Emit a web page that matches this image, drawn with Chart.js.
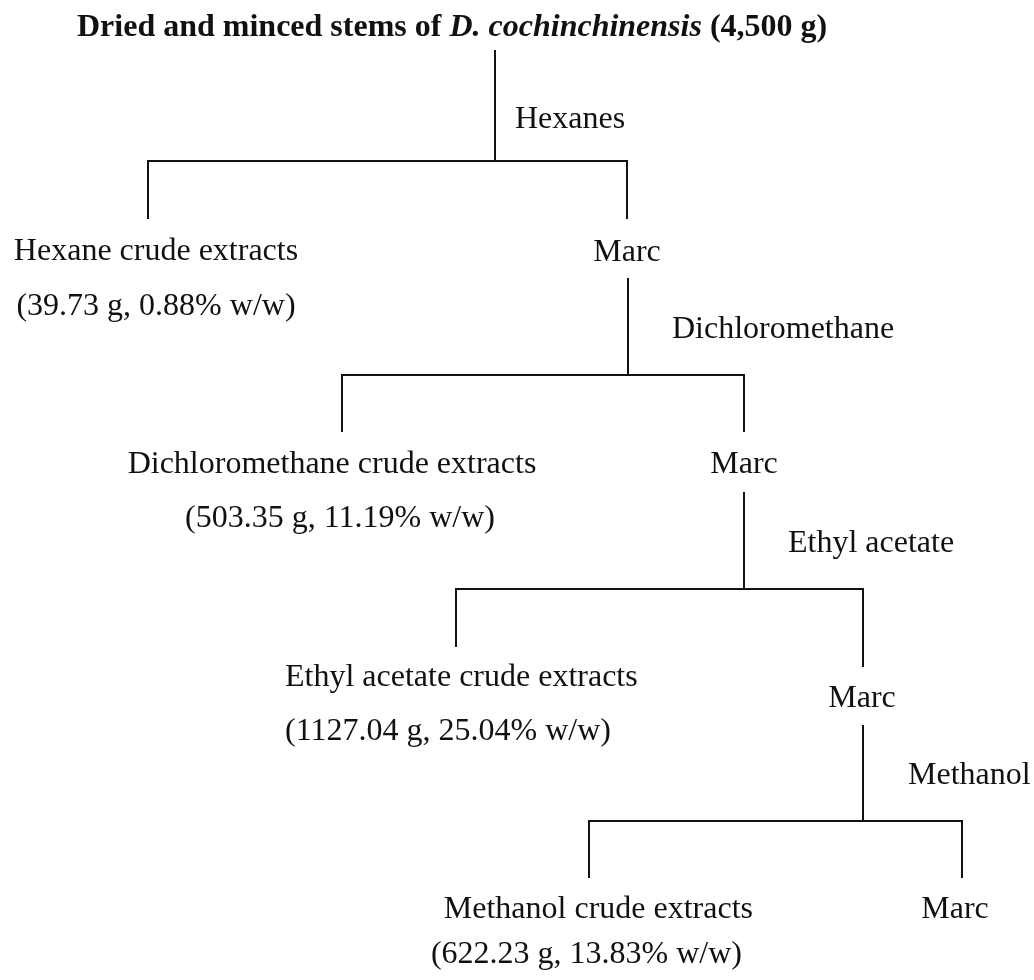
<!DOCTYPE html>
<html>
<head>
<meta charset="utf-8">
<script src="https://cdn.jsdelivr.net/npm/chart.js@4.4.1/dist/chart.umd.min.js"></script>
<style>
  html, body { margin: 0; padding: 0; background: #fff; }
  #wrap { width: 1034px; height: 980px; position: relative; }
</style>
</head>
<body>
<div id="wrap"><canvas id="flow"></canvas></div>
<script>
// extraction data
const plantPart = "Dried and minced stems of ";
const species = "D. cochinchinensis";
const startMass = 4500;
const solvents = ["Hexanes", "Dichloromethane", "Ethyl acetate", "Methanol"];
const extractNames = ["Hexane crude extracts", "Dichloromethane crude extracts", "Ethyl acetate crude extracts", "Methanol crude extracts"];
const extractMass = [39.73, 503.35, 1127.04, 622.23];
const extractPct = [0.88, 11.19, 25.04, 13.83];
const residueName = "Marc";

// layout of each extraction step, in axis units (0..1034 across, 0..980 down)
const trunkX    = [495, 628, 744, 863];
const trunkTop  = [50, 278, 492, 725];
const branchY   = [161, 375, 589, 821];
const leftX     = [148, 342, 456, 589];
const rightX    = [627, 744, 863, 962];
const leftEnd   = [219, 432, 647, 878];
const rightEnd  = [219, 432, 667, 878];
const solventX  = [515, 672, 788, 908];
const solventY  = [128, 338, 552, 784];
const nameX     = [156, 332, 285, 753];
const massX     = [156, 340, 285, 742];
const textAlign = ["center", "center", "left", "right"];
const nameY     = [260, 473, 686, 918];
const massY     = [315, 527, 740, 963];
const marcX     = [627, 744, 862, 955];
const marcY     = [261, 473, 707, 918];

const SERIF = '"Liberation Serif", "Times New Roman", serif';
const INK = "#111";

// one dataset per straight segment of the tree
const segments = [];
solvents.forEach((s, i) => {
  segments.push([{x: trunkX[i], y: trunkTop[i]}, {x: trunkX[i], y: branchY[i]}]);
  segments.push([{x: leftX[i], y: leftEnd[i]}, {x: leftX[i], y: branchY[i]},
                 {x: rightX[i], y: branchY[i]}, {x: rightX[i], y: rightEnd[i]}]);
});

const datasets = segments.map(pts => ({
  data: pts,
  showLine: true,
  borderColor: INK,
  borderWidth: 2,
  pointRadius: 0,
  fill: false,
  tension: 0
}));

const labelsPlugin = {
  id: "flowLabels",
  afterDatasetsDraw(chart) {
    const ctx = chart.ctx;
    const xs = chart.scales.x, ys = chart.scales.y;
    const px = v => xs.getPixelForValue(v);
    const py = v => ys.getPixelForValue(v);
    ctx.save();
    ctx.fillStyle = INK;
    ctx.textBaseline = "alphabetic";

    // title, mixed bold / bold italic
    const parts = [
      [plantPart, "bold 32px " + SERIF],
      [species, "italic bold 32px " + SERIF],
      [" (" + startMass.toLocaleString("en-US") + " g)", "bold 32px " + SERIF]
    ];
    let tx = px(77);
    ctx.textAlign = "left";
    parts.forEach(([t, f]) => {
      ctx.font = f;
      ctx.fillText(t, tx, py(36));
      tx += ctx.measureText(t).width;
    });

    ctx.font = "32px " + SERIF;
    solvents.forEach((s, i) => {
      ctx.textAlign = "left";
      ctx.fillText(s, px(solventX[i]), py(solventY[i]));

      ctx.textAlign = textAlign[i];
      ctx.fillText(extractNames[i], px(nameX[i]), py(nameY[i]));
      const mass = "(" + extractMass[i].toFixed(2) + " g, " + extractPct[i].toFixed(2) + "% w/w)";
      ctx.fillText(mass, px(massX[i]), py(massY[i]));

      ctx.textAlign = "center";
      ctx.fillText(residueName, px(marcX[i]), py(marcY[i]));
    });
    ctx.restore();
  }
};

new Chart(document.getElementById("flow"), {
  type: "scatter",
  data: { datasets: datasets },
  options: {
    responsive: true,
    maintainAspectRatio: false,
    animation: false,
    layout: { padding: 0 },
    plugins: {
      legend: { display: false },
      tooltip: { enabled: false }
    },
    scales: {
      x: { type: "linear", min: 0, max: 1034, display: false },
      y: { type: "linear", min: 0, max: 980, reverse: true, display: false }
    }
  },
  plugins: [labelsPlugin]
});
</script>
</body>
</html>
